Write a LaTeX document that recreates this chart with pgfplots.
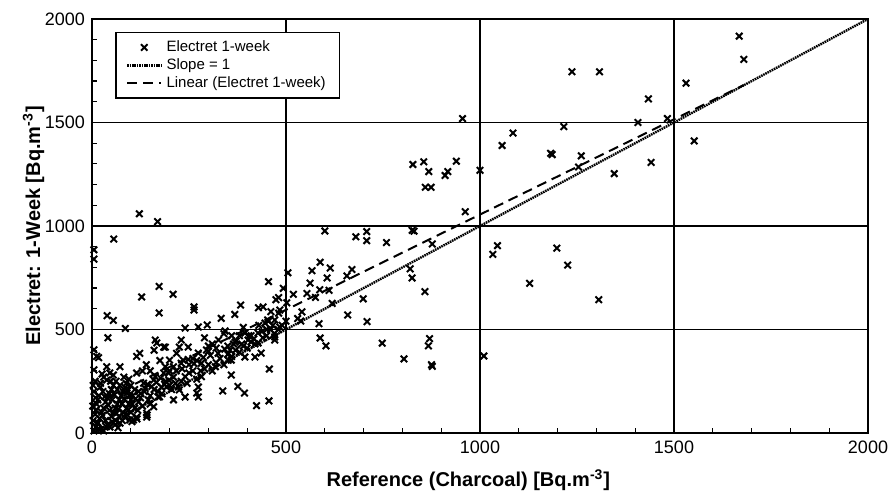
\documentclass[border=0pt]{standalone}
\usepackage{pgfplots}
\pgfplotsset{compat=1.18}
\usepackage{pgfplotstable}
\usepackage{fontspec}
\setmainfont{Liberation Sans}
\pgfplotstableread{
x y
1668 1917
1680 1805
1531 1690
1434 1614
1407 1500
1483 1519
1552 1411
1237 1745
1308 1745
1216 1480
1085 1449
1057 1389
1182 1351
1186 1345
1261 1339
1254 1285
1346 1253
1441 1307
955 1519
827 1297
855 1310
868 1263
939 1313
917 1263
910 1244
859 1187
874 1187
1000 1269
962 1069
825 979
830 975
1045 905
1033 863
1198 893
1226 811
1128 723
1306 644
1010 372
600 976
680 948
708 973
708 929
759 920
877 913
588 825
567 784
614 797
606 749
562 724
670 790
657 759
505 774
493 699
519 670
554 674
587 692
611 689
576 655
481 654
502 629
481 579
541 585
530 553
538 541
619 626
820 793
825 749
858 683
699 648
659 570
709 538
585 528
588 459
603 421
748 434
804 358
870 456
867 421
875 330
877 322
122 1059
169 1021
56 937
5 885
5 840
173 708
128 657
209 670
173 580
263 609
263 594
39 567
55 544
86 505
333 554
368 573
383 618
455 731
429 605
461 586
41 460
5 402
17 364
457 309
359 280
337 203
376 225
393 193
424 132
456 155
270 193
103 55
116 68
142 87
441 609
474 644
453 546
240 507
274 512
297 522
343 493
394 483
428 483
471 464
163 449
189 415
230 449
248 415
274 386
295 401
300 395
326 449
369 439
365 430
402 449
428 435
471 449
436 386
394 367
351 352
318 320
282 337
230 337
189 320
163 272
197 290
240 272
282 272
179 222
223 222
274 222
274 174
171 174
240 174
359 352
420 367
446 531
484 512
484 594
471 546
12 370
5 305
38 320
46 290
72 320
82 270
115 370
123 385
160 400
167 435
185 415
200 352
218 385
225 415
235 352
210 270
192 222
225 208
174 175
210 160
159 127
141 96
115 77
97 63
72 48
46 29
21 15
141 77
107 63
90 193
133 241
115 290
159 256
185 290
38 256
21 222
5 10
10 30
15 50
20 70
8 90
25 100
30 120
12 140
35 150
40 170
18 180
45 190
50 210
28 200
55 230
60 120
65 140
70 160
75 180
80 200
85 220
50 80
55 100
35 60
40 40
60 60
70 80
80 100
90 120
95 140
100 160
105 180
10 110
15 160
22 240
5 200
8 250
30 270
48 250
62 250
88 240
100 230
110 210
120 150
125 170
130 130
60 40
78 60
90 90
100 100
110 120
118 110
3 60
2 130
30 10
45 110
65 210
72 230
95 260
120 200
135 200
145 160
150 140
150 180
160 210
170 200
180 190
190 250
200 230
205 210
215 240
230 250
245 240
250 290
260 300
270 260
280 300
290 310
300 330
310 300
320 340
330 360
340 330
350 380
360 370
370 400
380 390
390 420
400 410
410 440
420 430
440 460
450 470
460 500
470 480
480 500
490 520
500 540
300 420
310 430
320 410
260 360
250 330
270 350
200 300
210 320
150 300
140 330
130 300
175 350
290 460
340 480
380 470
350 420
410 470
430 520
450 500
455 540
390 510
360 470
14 45
27 85
33 175
42 135
52 160
58 185
63 95
68 115
77 140
83 165
92 205
97 180
104 140
112 165
126 190
137 215
143 235
154 225
166 245
177 265
187 235
198 255
217 300
232 310
248 355
263 335
287 365
305 375
325 385
342 405
356 400
372 445
386 430
404 470
417 455
438 490
466 520
17 20
37 30
52 55
85 75
67 25
93 110
9 170
3 230
26 285
55 280
}\electret
\begin{document}
\begin{tikzpicture}
\begin{axis}[
  name=ax,
  scale only axis,
  width=388pt, height=207pt,
  xmin=0, xmax=2000, ymin=0, ymax=2000,
  xtick={0,500,1000,1500,2000},
  ytick={0,500,1000,1500,2000},
  xtick pos=bottom, ytick pos=left,
  minor tick num=4,
  tick align=inside,
  major tick length=2.5pt,
  minor tick length=2.5pt,
  tick style={black, line width=0.6pt},
  grid=major,
  major grid style={black, line width=0.7pt},
  axis line style={black, line width=1pt},
  /pgf/number format/assume math mode=true,
  /pgf/number format/set thousands separator={},
  tick label style={font=\fontsize{9}{10.8}\selectfont},
  xticklabel style={yshift=-0.5pt},
  xlabel={Reference (Charcoal) [Bq.m\textsuperscript{-3}]},
  ylabel={Electret: 1-Week [Bq.m\textsuperscript{-3}]},
  label style={font=\bfseries\fontsize{10}{12}\selectfont},
  xlabel style={at={(axis description cs:0.485,0)}, anchor=base, yshift=-27pt},
  ylabel style={at={(axis description cs:-0.067,0.5)}, anchor=base},
  legend style={at={(axis description cs:0.03,0.969)}, anchor=north west,
    draw=black, line width=0.7pt, fill=white,
    font=\fontsize{7.5}{9}\selectfont, row sep=-2pt,
    inner xsep=5pt, inner ysep=2pt},
  legend cell align=left,
]
\addplot[only marks, mark=x, mark size=2.3pt, mark options={line width=1pt, black}] table[x=x, y=y] {\electret};
\addlegendentry{Electret 1-week}
\addplot[black, line width=1.2pt, dash pattern=on 0.8pt off 0.4pt] coordinates {(0,0) (2000,2000)};
\addlegendentry{Slope = 1}
\addplot[black, line width=1pt, dash pattern=on 5pt off 3pt] coordinates {(0,135) (1680,1681)};
\addlegendentry{Linear (Electret 1-week)}
\end{axis}
\pgfresetboundingbox
\path ([shift={(-46pt,-32pt)}]ax.south west) rectangle ([shift={(10pt,9.5pt)}]ax.north east);
\end{tikzpicture}
\end{document}
